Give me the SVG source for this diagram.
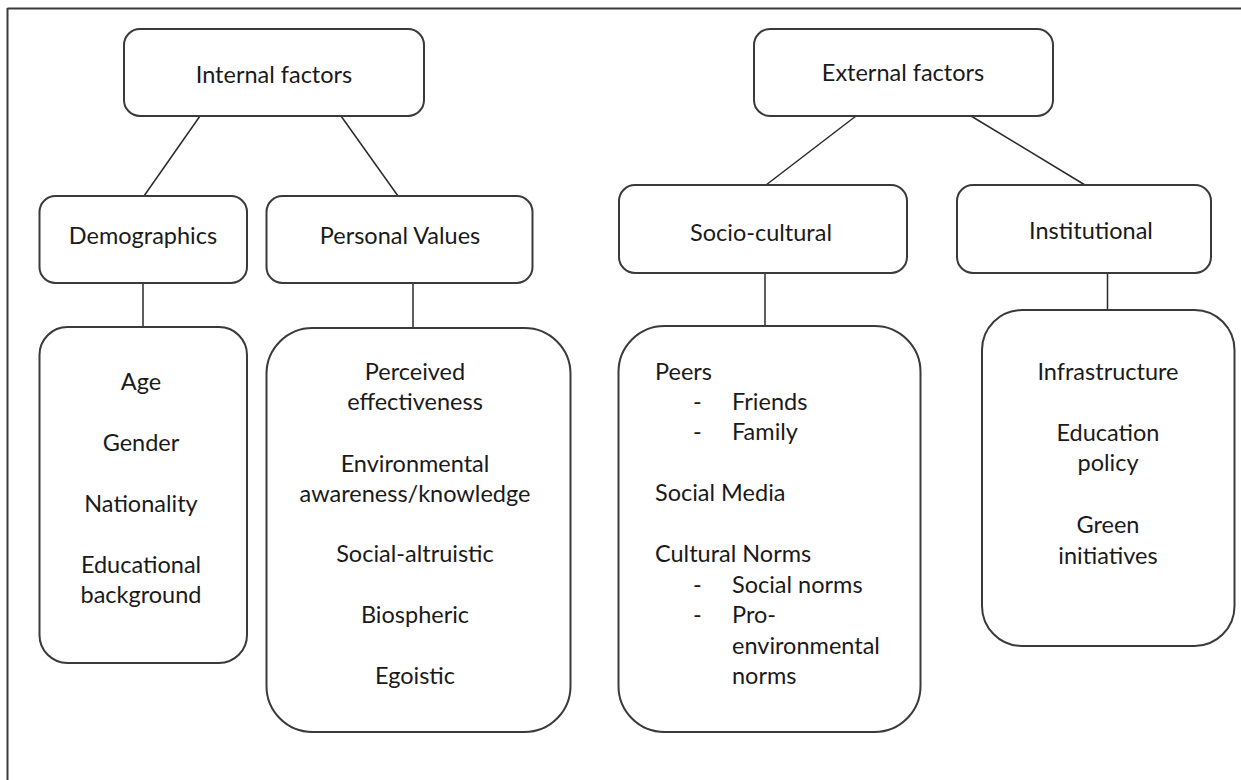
<svg xmlns="http://www.w3.org/2000/svg" width="1241" height="780" viewBox="0 0 1241 780">
<style>
  .box { fill: #ffffff; stroke: #3a3a3a; stroke-width: 2; }
  .frame { fill: none; stroke: #3a3a3a; stroke-width: 2; }
  .conn { fill: none; stroke: #2a2a2a; stroke-width: 1.5; }
  text { font-family: Lato, "Liberation Sans", sans-serif; font-size: 23.5px; fill: #1a1a1a; }
  .c { text-anchor: middle; }
</style>
<rect width="1241" height="780" fill="#ffffff"/>
<g id="frame">
  <line class="frame" x1="7.5" y1="8.5" x2="1241" y2="8.5"/>
  <line class="frame" x1="7.5" y1="8" x2="7.5" y2="780"/>
</g>
<g id="connectors">
  <line class="conn" x1="200" y1="116" x2="144" y2="196"/>
  <line class="conn" x1="341" y1="116" x2="398" y2="196"/>
  <line class="conn" x1="143" y1="283" x2="143" y2="327"/>
  <line class="conn" x1="413" y1="283" x2="413" y2="328"/>
  <line class="conn" x1="856" y1="116" x2="766" y2="185"/>
  <line class="conn" x1="971" y1="116" x2="1085" y2="185"/>
  <line class="conn" x1="765" y1="273" x2="765" y2="326"/>
  <line class="conn" x1="1107.5" y1="273" x2="1107.5" y2="310"/>
</g>
<g id="internal-factors">
  <rect class="box" x="124" y="29" width="300" height="87" rx="16"/>
  <text class="c" x="274" y="83">Internal factors</text>
</g>
<g id="external-factors">
  <rect class="box" x="754" y="29" width="299" height="87" rx="16"/>
  <text class="c" x="903" y="81">External factors</text>
</g>
<g id="demographics">
  <rect class="box" x="39.5" y="196" width="207.5" height="87" rx="16"/>
  <text class="c" x="143" y="244">Demographics</text>
</g>
<g id="personal-values">
  <rect class="box" x="266.5" y="196" width="266" height="87" rx="16"/>
  <text class="c" x="400" y="244">Personal Values</text>
</g>
<g id="socio-cultural">
  <rect class="box" x="619" y="185" width="288" height="88" rx="16"/>
  <text class="c" x="761" y="241">Socio-cultural</text>
</g>
<g id="institutional">
  <rect class="box" x="957" y="185" width="254" height="88" rx="16"/>
  <text class="c" x="1091" y="239">Institutional</text>
</g>
<g id="demographics-items">
  <rect class="box" x="39.5" y="327" width="207.5" height="336" rx="28"/>
  <text class="c" x="141" y="390">Age</text>
  <text class="c" x="141" y="451">Gender</text>
  <text class="c" x="141" y="512">Nationality</text>
  <text class="c" x="141" y="573">Educational</text>
  <text class="c" x="141" y="603">background</text>
</g>
<g id="personal-values-items">
  <rect class="box" x="266.5" y="328" width="304" height="404" rx="46"/>
  <text class="c" x="415" y="380">Perceived</text>
  <text class="c" x="415" y="410">effectiveness</text>
  <text class="c" x="415" y="472">Environmental</text>
  <text class="c" x="415" y="502">awareness/knowledge</text>
  <text class="c" x="415" y="562">Social-altruistic</text>
  <text class="c" x="415" y="623">Biospheric</text>
  <text class="c" x="415" y="684">Egoistic</text>
</g>
<g id="socio-cultural-items">
  <rect class="box" x="618.5" y="326" width="302" height="406" rx="46"/>
  <text x="655" y="380">Peers</text>
  <text x="693" y="410">-</text><text x="732" y="410">Friends</text>
  <text x="693" y="440">-</text><text x="732" y="440">Family</text>
  <text x="655" y="501">Social Media</text>
  <text x="655" y="562">Cultural Norms</text>
  <text x="693" y="593">-</text><text x="732" y="593">Social norms</text>
  <text x="693" y="623">-</text><text x="732" y="623">Pro-</text>
  <text x="732" y="654">environmental</text>
  <text x="732" y="684">norms</text>
</g>
<g id="institutional-items">
  <rect class="box" x="982" y="310" width="252.5" height="336" rx="40"/>
  <text class="c" x="1108" y="380">Infrastructure</text>
  <text class="c" x="1108" y="441">Education</text>
  <text class="c" x="1108" y="471">policy</text>
  <text class="c" x="1108" y="533">Green</text>
  <text class="c" x="1108" y="564">initiatives</text>
</g>
</svg>
